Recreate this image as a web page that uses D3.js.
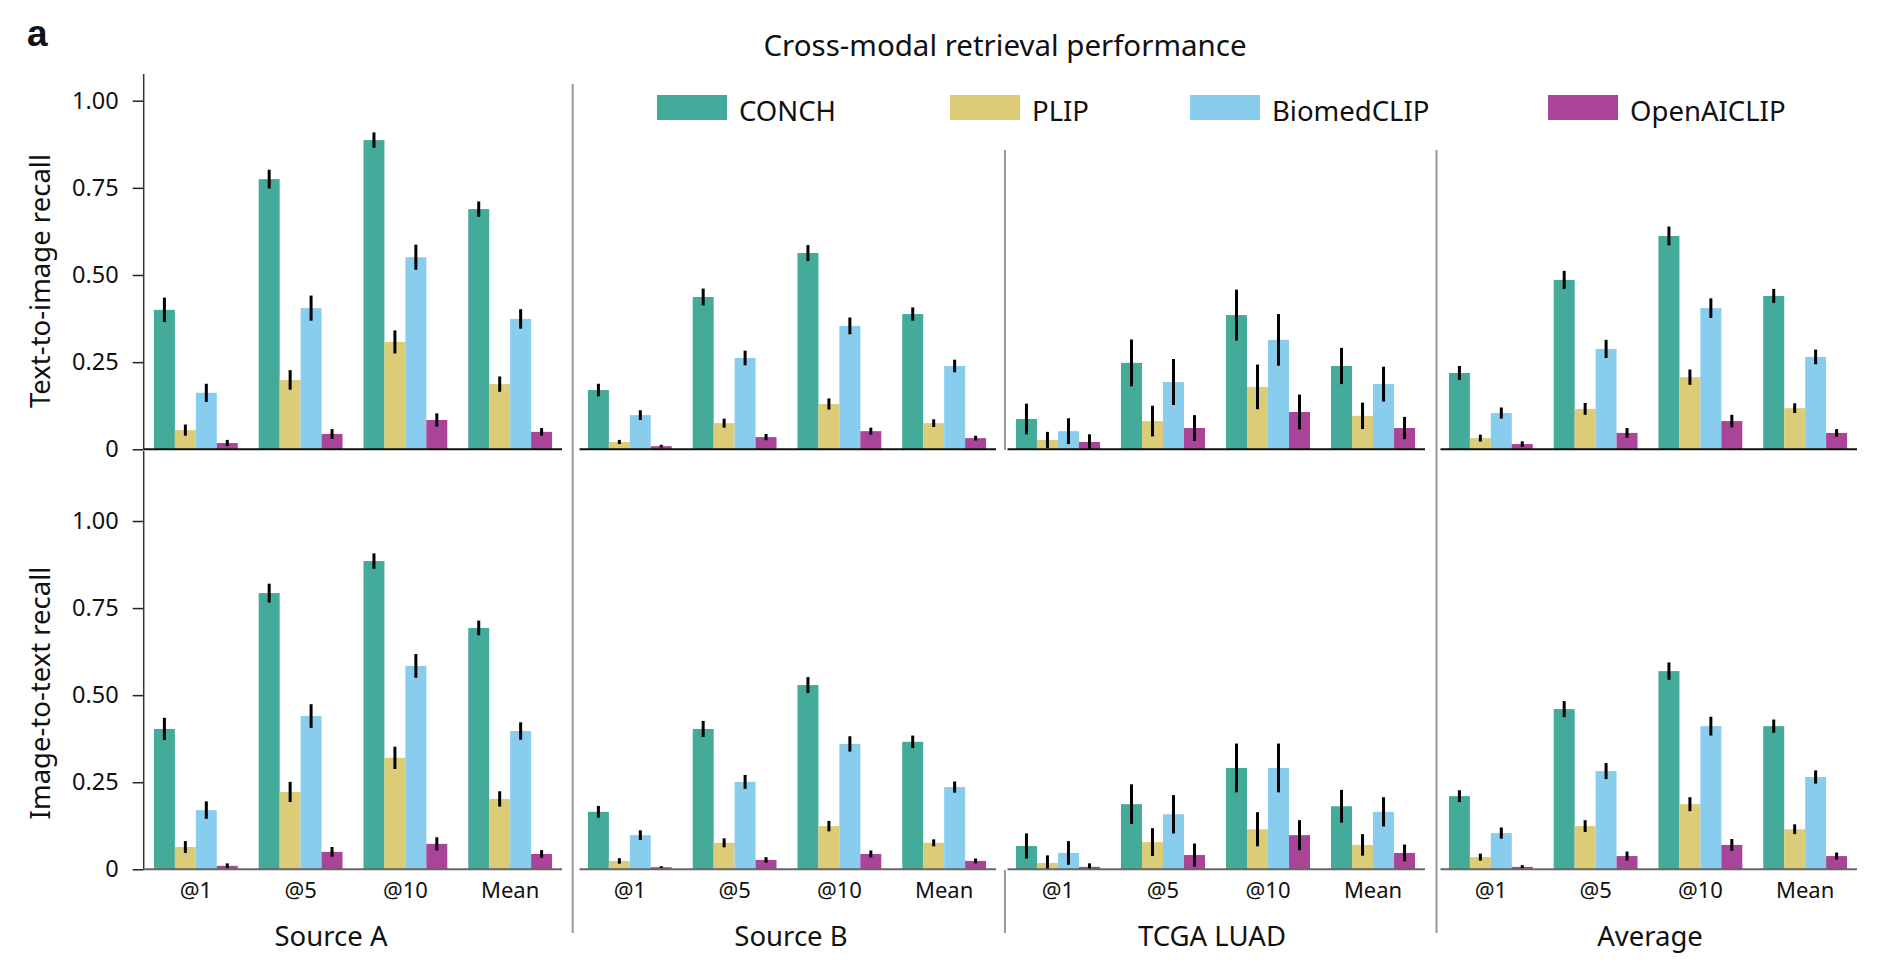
<!DOCTYPE html>
<html>
<head>
<meta charset="utf-8">
<script src="https://cdn.jsdelivr.net/npm/d3@7"></script>
<style>
  html, body { margin: 0; padding: 0; background: #fff; }
  svg { display: block; }
  text { font-family: "Noto Sans", "DejaVu Sans", sans-serif; fill: #111; }
</style>
</head>
<body>
<svg id="chart" width="1882" height="980"></svg>
<script>
// ---------------- DATA ----------------
const datasets = ["Source A", "Source B", "TCGA LUAD", "Average"];
const metrics = ["@1", "@5", "@10", "Mean"];
const models = ["CONCH", "PLIP", "BiomedCLIP", "OpenAICLIP"];
const modelColors = ["#44AA99", "#DDCC77", "#88CCEE", "#AA4499"];
const yTickValues = [0, 0.25, 0.5, 0.75, 1.0];
const yTickLabels = ["0", "0.25", "0.50", "0.75", "1.00"];
const rowTitles = ["Text-to-image recall", "Image-to-text recall"];
const chartTitle = "Cross-modal retrieval performance";

// Text-to-image recall, rows = metrics (@1, @5, @10, Mean), cols = models
const t2iSourceA = [[0.400, 0.055, 0.162, 0.018], [0.775, 0.199, 0.405, 0.044], [0.887, 0.308, 0.551, 0.084], [0.689, 0.187, 0.374, 0.050]];
const t2iSourceB = [[0.170, 0.021, 0.098, 0.009], [0.437, 0.075, 0.262, 0.035], [0.563, 0.130, 0.354, 0.052], [0.388, 0.075, 0.239, 0.032]];
const t2iTCGA    = [[0.087, 0.027, 0.052, 0.021], [0.248, 0.081, 0.193, 0.061], [0.385, 0.179, 0.314, 0.107], [0.239, 0.096, 0.187, 0.061]];
const t2iAverage = [[0.219, 0.032, 0.104, 0.015], [0.486, 0.116, 0.288, 0.047], [0.612, 0.207, 0.405, 0.081], [0.440, 0.118, 0.265, 0.047]];
// half-widths of the error bars
const t2iErrSourceA = [[0.035, 0.016, 0.026, 0.009], [0.027, 0.028, 0.036, 0.014], [0.022, 0.033, 0.036, 0.019], [0.022, 0.022, 0.028, 0.011]];
const t2iErrSourceB = [[0.018, 0.006, 0.014, 0.004], [0.024, 0.013, 0.021, 0.009], [0.023, 0.016, 0.024, 0.010], [0.019, 0.011, 0.018, 0.007]];
const t2iErrTCGA    = [[0.044, 0.023, 0.037, 0.022], [0.067, 0.044, 0.066, 0.037], [0.073, 0.064, 0.074, 0.050], [0.052, 0.038, 0.050, 0.032]];
const t2iErrAverage = [[0.020, 0.010, 0.016, 0.008], [0.026, 0.017, 0.026, 0.014], [0.027, 0.022, 0.028, 0.018], [0.020, 0.014, 0.021, 0.011]];

// Image-to-text recall
const i2tSourceA = [[0.403, 0.064, 0.170, 0.010], [0.793, 0.222, 0.440, 0.050], [0.885, 0.320, 0.584, 0.073], [0.693, 0.202, 0.397, 0.044]];
const i2tSourceB = [[0.165, 0.024, 0.098, 0.006], [0.403, 0.076, 0.251, 0.027], [0.529, 0.124, 0.360, 0.044], [0.366, 0.076, 0.236, 0.024]];
const i2tTCGA    = [[0.067, 0.018, 0.047, 0.007], [0.187, 0.078, 0.158, 0.041], [0.291, 0.115, 0.291, 0.098], [0.181, 0.070, 0.165, 0.047]];
const i2tAverage = [[0.210, 0.035, 0.104, 0.007], [0.460, 0.124, 0.282, 0.038], [0.569, 0.187, 0.411, 0.070], [0.411, 0.115, 0.265, 0.038]];
const i2tErrSourceA = [[0.032, 0.017, 0.025, 0.007], [0.027, 0.029, 0.034, 0.014], [0.022, 0.032, 0.034, 0.019], [0.021, 0.022, 0.025, 0.011]];
const i2tErrSourceB = [[0.017, 0.008, 0.014, 0.003], [0.023, 0.013, 0.020, 0.008], [0.023, 0.015, 0.022, 0.010], [0.018, 0.010, 0.016, 0.007]];
const i2tErrTCGA    = [[0.036, 0.022, 0.034, 0.010], [0.057, 0.040, 0.055, 0.033], [0.070, 0.049, 0.070, 0.043], [0.047, 0.031, 0.042, 0.024]];
const i2tErrAverage = [[0.017, 0.010, 0.016, 0.005], [0.023, 0.017, 0.023, 0.013], [0.025, 0.020, 0.027, 0.017], [0.019, 0.014, 0.019, 0.010]];

const rowValues = [[t2iSourceA, t2iSourceB, t2iTCGA, t2iAverage], [i2tSourceA, i2tSourceB, i2tTCGA, i2tAverage]];
const rowErrors = [[t2iErrSourceA, t2iErrSourceB, t2iErrTCGA, t2iErrAverage], [i2tErrSourceA, i2tErrSourceB, i2tErrTCGA, i2tErrAverage]];

// ---------------- LAYOUT ----------------
const panelX = [[144.5, 561.5], [578.5, 995.5], [1006.5, 1424.5], [1439.5, 1856.5]];
const rowY = [ {zero: 449.3, one: 100.7, axisTop: 74, baseColor: "#111", titleY: 281},
               {zero: 869.3, one: 521.0, axisTop: 451, baseColor: "#666", titleY: 693} ];
const yAxisX = 143.7;
const datasetLabelX = [331, 791, 1212, 1650];
const legendX = [657, 950, 1190, 1548];

const svg = d3.select("#chart");

// title and panel letter
svg.append("text").attr("x", 27).attr("y", 46)
  .style("font-family", "'Liberation Sans', Arial, sans-serif")
  .style("font-weight", "bold").style("font-size", "37px").text("a");
svg.append("text").attr("x", 1005).attr("y", 56).attr("text-anchor", "middle")
  .style("font-size", "29.5px").text(chartTitle);

// legend
const leg = svg.append("g");
models.forEach((m, i) => {
  leg.append("rect").attr("x", legendX[i]).attr("y", 95).attr("width", 70).attr("height", 25)
    .attr("fill", modelColors[i]);
  leg.append("text").attr("x", legendX[i] + 82).attr("y", 121)
    .style("font-size", "27.5px").text(m);
});

// separators
const sepColor = "#999";
svg.append("line").attr("x1", 572.7).attr("x2", 572.7).attr("y1", 84).attr("y2", 933)
  .attr("stroke", sepColor).attr("stroke-width", 2);
svg.append("line").attr("x1", 1005).attr("x2", 1005).attr("y1", 150).attr("y2", 450)
  .attr("stroke", sepColor).attr("stroke-width", 2);
svg.append("line").attr("x1", 1005).attr("x2", 1005).attr("y1", 870).attr("y2", 933)
  .attr("stroke", sepColor).attr("stroke-width", 2);
svg.append("line").attr("x1", 1436.5).attr("x2", 1436.5).attr("y1", 150).attr("y2", 933)
  .attr("stroke", sepColor).attr("stroke-width", 2);

rowY.forEach((ry, r) => {
  const y = d3.scaleLinear().domain([0, 1]).range([ry.zero, ry.one]);

  // y axis
  const axis = d3.axisLeft(y).tickValues(yTickValues)
    .tickFormat((d, i) => yTickLabels[i]).tickSize(11).tickPadding(14);
  const ag = svg.append("g").attr("transform", `translate(${yAxisX},0)`).call(axis);
  ag.select(".domain").remove();
  ag.selectAll(".tick line").attr("stroke", "#222").attr("stroke-width", 1.5);
  ag.selectAll(".tick text").style("font-size", "23.5px")
    .style("font-family", "'Noto Sans', sans-serif").attr("fill", "#111");
  svg.append("line").attr("x1", yAxisX).attr("x2", yAxisX)
    .attr("y1", ry.axisTop).attr("y2", ry.zero)
    .attr("stroke", "#333").attr("stroke-width", 1.5);

  // row title
  svg.append("text").attr("transform", `translate(50,${ry.titleY}) rotate(-90)`)
    .attr("text-anchor", "middle").style("font-size", "27.5px").text(rowTitles[r]);

  datasets.forEach((ds, p) => {
    const x0 = d3.scaleBand().domain(metrics).range(panelX[p]).paddingInner(0.2).paddingOuter(0.09);
    const x1 = d3.scaleBand().domain(models).range([0, x0.bandwidth()]);
    const vals = rowValues[r][p];
    const errs = rowErrors[r][p];
    const g = svg.append("g");

    metrics.forEach((mt, mi) => {
      models.forEach((md, k) => {
        const v = vals[mi][k];
        const e = errs[mi][k];
        const bx = x0(mt) + x1(md);
        g.append("rect").attr("x", bx).attr("y", y(v))
          .attr("width", x1.bandwidth()).attr("height", y(0) - y(v))
          .attr("fill", modelColors[k]);
        g.append("line").attr("x1", bx + x1.bandwidth() / 2).attr("x2", bx + x1.bandwidth() / 2)
          .attr("y1", y(Math.max(0, v - e))).attr("y2", y(v + e))
          .attr("stroke", "#000").attr("stroke-width", 3);
      });
    });

    // baseline
    const bx0 = p === 0 ? yAxisX : panelX[p][0] + 1;
    svg.append("line").attr("x1", bx0).attr("x2", panelX[p][1] + 0.5)
      .attr("y1", y(0)).attr("y2", y(0)).attr("stroke", ry.baseColor).attr("stroke-width", 2);

    if (r === 1) {
      // category labels
      const xa = d3.axisBottom(x0).tickSize(0).tickPadding(0);
      const xg = svg.append("g").attr("transform", `translate(0,${y(0)})`).call(xa);
      xg.select(".domain").remove();
      xg.selectAll(".tick text").attr("y", 29).attr("dy", 0)
        .style("font-size", "22px").style("font-family", "'Noto Sans', sans-serif").attr("fill", "#111");
      svg.append("text").attr("x", datasetLabelX[p]).attr("y", 946)
        .attr("text-anchor", "middle").style("font-size", "27.5px").text(ds);
    }
  });
});
</script>
</body>
</html>
